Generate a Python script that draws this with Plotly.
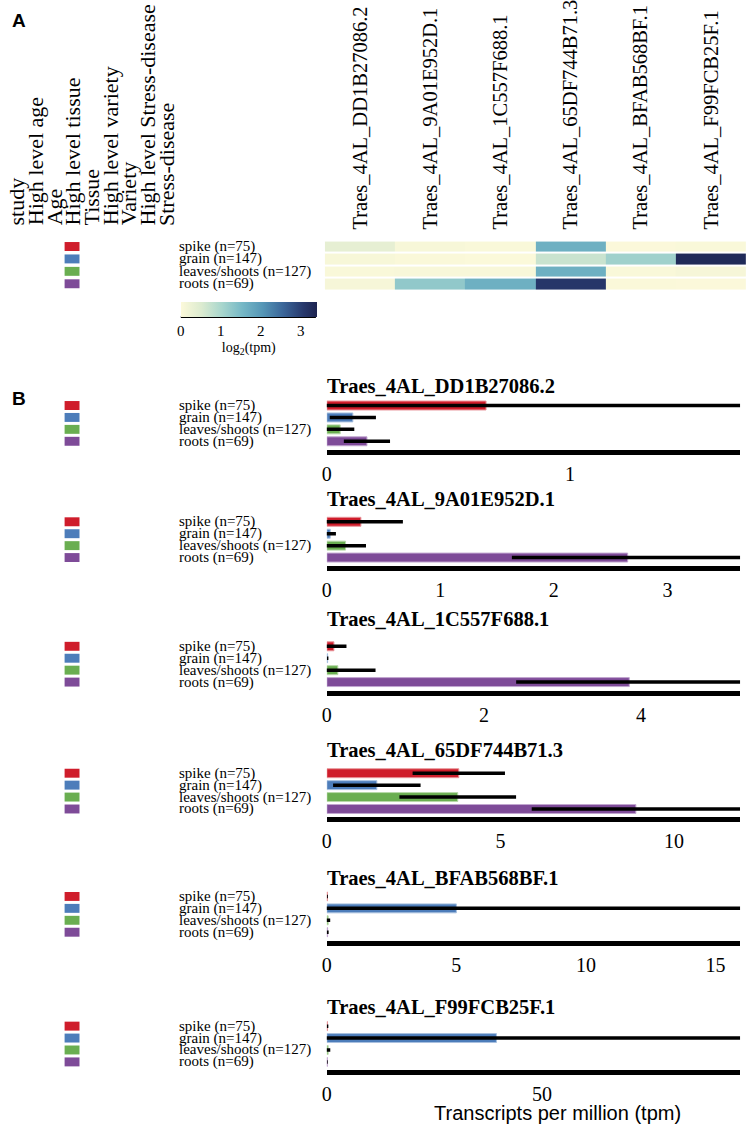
import plotly.graph_objects as go

W, H = 747, 1127

genes = ["Traes_4AL_DD1B27086.2", "Traes_4AL_9A01E952D.1", "Traes_4AL_1C557F688.1",
         "Traes_4AL_65DF744B71.3", "Traes_4AL_BFAB568BF.1", "Traes_4AL_F99FCB25F.1"]
tissues = ["spike (n=75)", "grain (n=147)", "leaves/shoots (n=127)", "roots (n=69)"]
tissue_colors = ["#cf1d2b", "#4d7dba", "#6aae51", "#7e4b98"]
tissue_edges = ["#e8959b", "#a9c1df", "#b8d9aa", "#c2a6d0"]
header_labels = ["study", "High level age", "Age", "High level tissue", "Tissue",
                 "High level variety", "Variety", "High level Stress-disease", "Stress-disease"]

# heatmap: log2(tpm), rows = tissues, cols = genes
heat_spike = [0.35, 0.08, 0.04, 1.65, 0.02, 0.05]
heat_grain = [0.08, 0.03, 0.01, 0.70, 1.10, 3.30]
heat_leaves = [0.05, 0.07, 0.06, 1.65, 0.05, 0.10]
heat_roots = [0.10, 1.25, 1.65, 3.10, 0.03, 0.02]
heat_ticks = [0, 1, 2, 3]

# bar charts: mean tpm and sd per gene, order spike, grain, leaves/shoots, roots
tpm_mean = [
    [0.655, 0.107, 0.055, 0.165],
    [0.30, 0.03, 0.165, 2.65],
    [0.09, 0.01, 0.14, 3.85],
    [3.80, 1.44, 3.77, 8.90],
    [0.02, 5.00, 0.05, 0.03],
    [0.15, 39.4, 0.30, 0.10],
]
tpm_sd = [
    [1.20, 0.095, 0.058, 0.095],
    [0.37, 0.05, 0.18, 1.02],
    [0.16, 0.01, 0.48, 1.44],
    [1.33, 1.26, 1.68, 3.00],
    [0.02, 11.5, 0.08, 0.04],
    [0.20, 60.0, 0.50, 0.10],
]
x_max = [1.70, 3.64, 5.26, 11.9, 15.95, 96]
x_dtick = [1, 1, 2, 5, 5, 50]

SERIF = "Liberation Serif"
SANS = "Liberation Sans"


def fx(x):
    return x / W


def fy(y):
    return 1 - y / H


fig = go.Figure()

colorscale = [[0.0, "#fcf9da"], [0.15, "#dcebd0"], [0.3, "#a8d6cd"], [0.45, "#76b8c6"],
              [0.6, "#5596b6"], [0.75, "#3b6699"], [0.9, "#27386c"], [1.0, "#1d2450"]]

fig.add_trace(go.Heatmap(
    z=[heat_spike, heat_grain, heat_leaves, heat_roots],
    x=genes, y=tissues, zmin=0, zmax=3.4, colorscale=colorscale, ygap=2,
    xaxis="x", yaxis="y", hoverinfo="skip",
    colorbar=dict(orientation="h", x=fx(177), xanchor="left", y=fy(297), yanchor="top",
                  len=136, lenmode="pixels", thickness=15, xpad=0, ypad=0,
                  outlinewidth=0, tickvals=heat_ticks, ticks="",
                  tickfont=dict(family=SERIF, size=15, color="black"),
                  title=dict(text="log<sub>2</sub>(tpm)", side="bottom",
                             font=dict(family=SERIF, size=14, color="black"))),
))

layout = dict(
    width=W, height=H, margin=dict(l=0, r=0, t=0, b=0),
    paper_bgcolor="white", plot_bgcolor="white", showlegend=False,
    xaxis=dict(domain=[fx(322), fx(746)], anchor="y", side="top", tickangle=-90,
               ticks="", ticklabelstandoff=10, showgrid=False, zeroline=False,
               tickfont=dict(family=SERIF, size=20.5, color="black")),
    yaxis=dict(domain=[fy(285), fy(235)], anchor="x", autorange="reversed",
               showticklabels=False, showgrid=False, zeroline=False),
)

annotations = []
shapes = []

# panel labels
annotations.append(dict(text="<b>A</b>", x=fx(5), y=fy(14), xref="paper", yref="paper",
                        xanchor="left", yanchor="middle", showarrow=False,
                        font=dict(family=SANS, size=19, color="black")))
annotations.append(dict(text="<b>B</b>", x=fx(5), y=fy(394), xref="paper", yref="paper",
                        xanchor="left", yanchor="middle", showarrow=False,
                        font=dict(family=SANS, size=19, color="black")))

# header labels
for i, lab in enumerate(header_labels):
    annotations.append(dict(text=lab, x=fx(12 + i * 18.75), y=fy(222), xref="paper", yref="paper",
                            xanchor="center", yanchor="bottom", textangle=-90, showarrow=False,
                            font=dict(family=SERIF, size=22, color="black")))

# heatmap row labels and colour keys
hm_rows = [241, 253.5, 266, 278.5]
for j, t in enumerate(tissues):
    annotations.append(dict(text=t, x=fx(173), y=fy(hm_rows[j]), xref="paper", yref="paper",
                            xanchor="left", yanchor="middle", showarrow=False,
                            font=dict(family=SERIF, size=15, color="black")))
    shapes.append(dict(type="rect", xref="paper", yref="paper",
                       x0=fx(60), x1=fx(75), y0=fy(hm_rows[j] + 4.5), y1=fy(hm_rows[j] - 4.5),
                       fillcolor=tissue_colors[j], line=dict(width=0)))

# colorbar baseline
shapes.append(dict(type="line", xref="paper", yref="paper", x0=fx(177), x1=fx(313),
                   y0=fy(312), y1=fy(312), line=dict(color="black", width=2)))

axis_line_y = [448.5, 565.5, 690.8, 818.5, 942.5, 1073]
title_y = [381, 495, 616, 748, 876, 1006]

for i, g in enumerate(genes):
    k = i + 2
    A = axis_line_y[i]
    top = A - 53.5
    bot = A - 3
    span = (bot - top) / 12.0
    fig.add_trace(go.Bar(
        orientation="h", x=tpm_mean[i], y=tissues, width=0.75,
        marker=dict(color=tissue_colors, line=dict(color=tissue_edges, width=1)),
        error_x=dict(type="data", array=tpm_sd[i], symmetric=True, thickness=3.5,
                     width=0, color="black"),
        xaxis=f"x{k}", yaxis=f"y{k}", hoverinfo="skip",
    ))
    layout[f"xaxis{k}"] = dict(domain=[fx(324), fx(740)], anchor=f"y{k}", range=[0, x_max[i]],
                               dtick=x_dtick[i], tick0=0, ticks="", showgrid=False, zeroline=False,
                               showline=True, linewidth=5, linecolor="black",
                               ticklabelstandoff=2,
                               tickfont=dict(family=SERIF, size=20, color="black"))
    layout[f"yaxis{k}"] = dict(domain=[fy(bot), fy(top)], anchor=f"x{k}",
                               range=[-0.5 + span, -0.5], showticklabels=False,
                               showgrid=False, zeroline=False, fixedrange=True)
    annotations.append(dict(text=f"<b>{g}</b>", x=fx(322), y=fy(title_y[i]), xref="paper",
                            yref="paper", xanchor="left", yanchor="middle", showarrow=False,
                            font=dict(family=SERIF, size=20.5, color="black")))
    for j, t in enumerate(tissues):
        ry = A - 47.5 + 12 * j
        annotations.append(dict(text=t, x=fx(173), y=fy(ry), xref="paper", yref="paper",
                                xanchor="left", yanchor="middle", showarrow=False,
                                font=dict(family=SERIF, size=15, color="black")))
        shapes.append(dict(type="rect", xref="paper", yref="paper",
                           x0=fx(60), x1=fx(75), y0=fy(ry + 4.5), y1=fy(ry - 4.5),
                           fillcolor=tissue_colors[j], line=dict(width=0)))

annotations.append(dict(text="Transcripts per million (tpm)", x=fx(556), y=fy(1113),
                        xref="paper", yref="paper", xanchor="center", yanchor="middle",
                        showarrow=False, font=dict(family=SANS, size=20, color="black")))

layout["annotations"] = annotations
layout["shapes"] = shapes
fig.update_layout(**layout)
fig.write_html("out.html", config={"displayModeBar": False},
               post_script="document.body.style.margin='0';document.body.style.overflow='hidden';")
